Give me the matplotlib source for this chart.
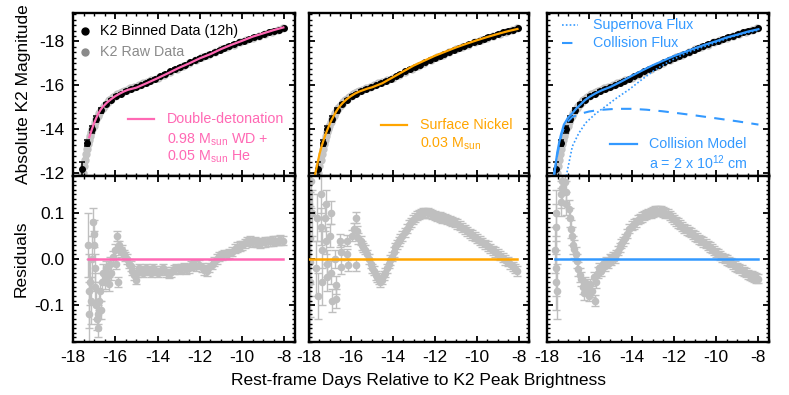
import matplotlib
matplotlib.use("Agg")
import matplotlib.pyplot as plt
from matplotlib.ticker import MultipleLocator, FormatStrFormatter

plt.rcParams['font.family'] = ['Liberation Sans', 'DejaVu Sans']
plt.rcParams['mathtext.fontset'] = 'custom'
plt.rcParams['mathtext.rm'] = 'Liberation Sans'
plt.rcParams['mathtext.it'] = 'Liberation Sans'
plt.rcParams['axes.unicode_minus'] = False

# binned light curve (12h)
bin_t = [-17.58, -17.34, -17.12, -16.89, -16.66, -16.44, -16.20, -15.97, -15.74, -15.50,
         -15.27, -15.04, -14.80, -14.57, -14.34, -14.10, -13.87, -13.64, -13.40, -13.17,
         -12.94, -12.70, -12.47, -12.24, -12.00, -11.77, -11.54, -11.30, -11.07, -10.84,
         -10.60, -10.37, -10.14, -9.90, -9.67, -9.44, -9.20, -8.97, -8.74, -8.50, -8.27, -8.04]
bin_mag = [-12.18, -13.36, -13.98, -14.45, -14.85, -15.12, -15.33, -15.50, -15.62, -15.73,
           -15.82, -15.90, -16.00, -16.10, -16.20, -16.30, -16.40, -16.52, -16.63, -16.74,
           -16.84, -16.94, -17.04, -17.14, -17.24, -17.33, -17.42, -17.52, -17.61, -17.70,
           -17.79, -17.88, -17.96, -18.04, -18.12, -18.20, -18.27, -18.34, -18.41, -18.48, -18.54, -18.60]
bin_err = [0.33, 0.13, 0.16, 0.13, 0.10, 0.08, 0.06, 0.05, 0.04, 0.04,
           0.03, 0.03, 0.03, 0.03, 0.03, 0.03, 0.03, 0.03, 0.03, 0.03,
           0.03, 0.03, 0.03, 0.03, 0.03, 0.03, 0.03, 0.03, 0.03, 0.03,
           0.03, 0.03, 0.03, 0.03, 0.03, 0.03, 0.03, 0.03, 0.03, 0.03, 0.03, 0.03]

# raw light curve
raw_t = [-17.62, -17.55, -17.50, -17.45, -17.40, -17.35, -17.30, -17.25, -17.20, -17.15,
         -17.10, -17.03, -16.96, -16.90, -16.82, -16.75, -16.68, -16.60, -16.52, -16.44,
         -16.36, -16.28, -16.20, -16.10, -16.00, -15.90, -15.80, -15.70, -15.60, -15.45,
         -15.30, -15.10, -14.90, -14.70, -14.50, -14.30, -14.00, -13.70, -13.40, -13.10,
         -12.80, -12.50, -12.20, -11.90, -11.60, -11.30, -11.00, -10.70, -10.40, -10.10,
         -9.80, -9.50, -9.20, -8.90, -8.60, -8.30, -8.05]
raw_mag = [-11.85, -12.00, -12.30, -12.60, -12.85, -13.10, -13.30, -13.50, -13.70, -13.85,
           -14.00, -14.15, -14.30, -14.45, -14.60, -14.72, -14.85, -14.97, -15.07, -15.15,
           -15.25, -15.32, -15.38, -15.45, -15.52, -15.58, -15.64, -15.69, -15.73, -15.79,
           -15.85, -15.93, -16.00, -16.08, -16.15, -16.23, -16.35, -16.48, -16.62, -16.76,
           -16.89, -17.02, -17.15, -17.28, -17.40, -17.52, -17.64, -17.75, -17.86, -17.97,
           -18.08, -18.18, -18.27, -18.36, -18.45, -18.53, -18.60]
raw_err = [0.25, 0.25, 0.22, 0.22, 0.2, 0.2, 0.18, 0.18, 0.16, 0.16,
           0.15, 0.14, 0.13, 0.12, 0.11, 0.1, 0.1, 0.09, 0.08, 0.08,
           0.07, 0.07, 0.06, 0.06, 0.05, 0.05, 0.05, 0.05, 0.05, 0.05,
           0.04, 0.04, 0.04, 0.04, 0.04, 0.04, 0.04, 0.04, 0.04, 0.04,
           0.04, 0.04, 0.04, 0.04, 0.04, 0.04, 0.04, 0.04, 0.04, 0.04,
           0.04, 0.04, 0.04, 0.04, 0.04, 0.04, 0.04]

# double-detonation model
dd_t = [-17.23, -17.1, -17.0, -16.9, -16.8, -16.7, -16.6, -16.5, -16.4, -16.3, -16.2, -16.0,
        -15.8, -15.6, -15.4, -15.0, -14.5, -14.0, -13.5, -13.0, -12.5, -12.0, -11.5, -11.0,
        -10.5, -10.0, -9.5, -9.0, -8.5, -8.05]
dd_mag = [-13.62, -14.0, -14.27, -14.5, -14.7, -14.87, -15.0, -15.1, -15.2, -15.28, -15.36, -15.5,
          -15.61, -15.71, -15.79, -15.89, -16.1, -16.32, -16.55, -16.79, -17.0, -17.23, -17.42, -17.65,
          -17.85, -18.03, -18.22, -18.37, -18.52, -18.64]

# surface nickel model
ni_t = [-17.72, -17.6, -17.5, -17.4, -17.3, -17.2, -17.1, -17.0, -16.9, -16.8, -16.7, -16.6,
        -16.5, -16.4, -16.2, -16.0, -15.8, -15.6, -15.4, -15.2, -15.0, -14.5, -14.0, -13.5,
        -13.0, -12.5, -12.0, -11.5, -11.0, -10.5, -10.0, -9.5, -9.0, -8.5, -8.05]
ni_mag = [-11.87, -12.4, -12.85, -13.2, -13.5, -13.78, -14.02, -14.25, -14.45, -14.63, -14.8, -14.95,
          -15.07, -15.18, -15.36, -15.5, -15.62, -15.71, -15.78, -15.85, -15.9, -16.09, -16.36, -16.63,
          -16.9, -17.12, -17.34, -17.53, -17.72, -17.89, -18.05, -18.2, -18.34, -18.47, -18.57]

# collision model (total, supernova, collision)
col_t = [-17.67, -17.6, -17.51, -17.43, -17.35, -17.2, -17.0, -16.8, -16.6, -16.4, -16.2, -16.0,
         -15.7, -15.4, -15.0, -14.5, -14.0, -13.5, -13.0, -12.5, -12.0, -11.5, -11.0, -10.5,
         -10.0, -9.5, -9.0, -8.5, -8.0]
col_mag = [-11.87, -12.35, -12.94, -13.35, -13.7, -14.2, -14.52, -14.72, -14.95, -15.13, -15.32, -15.46,
           -15.63, -15.77, -15.92, -16.16, -16.42, -16.67, -16.91, -17.12, -17.33, -17.51, -17.69, -17.86,
           -18.01, -18.18, -18.31, -18.45, -18.56]
sn_t = [-17.09, -16.8, -16.5, -16.17, -15.7, -15.22, -14.7, -14.12, -13.5, -12.86, -12.2, -11.44,
        -10.7, -10.0, -9.3, -8.6, -8.0]
sn_mag = [-11.85, -13.21, -13.8, -14.28, -14.7, -15.04, -15.42, -15.8, -16.27, -16.72, -17.1, -17.45,
          -17.72, -17.95, -18.2, -18.38, -18.52]
cf_t = [-17.67, -17.5, -17.4, -17.3, -17.1, -16.8, -16.4, -16.0, -15.5, -14.75, -14.0, -13.3,
        -12.55, -11.8, -11.0, -10.18, -9.0, -8.0]
cf_mag = [-11.87, -12.9, -13.3, -13.8, -14.25, -14.55, -14.7, -14.8, -14.87, -14.92, -14.92, -14.88,
          -14.81, -14.72, -14.62, -14.51, -14.35, -14.2]

# residuals: double-detonation
res1_t = [-17.28, -17.26, -17.24, -17.20, -17.14, -17.10, -17.05, -17.03, -17.00, -16.98,
          -16.95, -16.92, -16.88, -16.84, -16.80, -16.76, -16.72, -16.68, -16.62, -16.56,
          -16.50, -16.44, -16.38, -16.32, -16.25, -16.18, -16.10, -16.02, -15.95, -15.90,
          -15.86, -15.82, -15.75, -15.68, -15.60, -15.52, -15.44, -15.36, -15.28, -15.20,
          -15.12, -15.04, -14.96, -14.88, -14.78, -14.68, -14.56, -14.44, -14.32, -14.20,
          -14.08, -13.96, -13.84, -13.72, -13.60, -13.48, -13.36, -13.24, -13.12, -13.00,
          -12.88, -12.76, -12.64, -12.52, -12.40, -12.28, -12.16, -12.04, -11.92, -11.80,
          -11.68, -11.56, -11.44, -11.32, -11.20, -11.08, -10.96, -10.84, -10.72, -10.60,
          -10.48, -10.36, -10.24, -10.12, -10.00, -9.88, -9.76, -9.64, -9.52, -9.40,
          -9.28, -9.16, -9.04, -8.92, -8.80, -8.68, -8.56, -8.44, -8.32, -8.20, -8.08]
res1 = [0.03, -0.07, -0.12, -0.05, -0.09, 0.00, 0.08, 0.055, 0.03, -0.02,
        -0.06, -0.10, -0.13, -0.15, -0.12, -0.09, -0.07, -0.11, -0.05, -0.03,
        -0.05, -0.02, -0.04, -0.055, -0.01, -0.03, 0.005, 0.02, -0.01, 0.05,
        -0.05, 0.03, 0.015, 0.02, 0.01, 0.005, 0.00, -0.01, -0.015, -0.025,
        -0.035, -0.045, -0.03, -0.02, -0.025, -0.03, -0.02, -0.025, -0.03, -0.02,
        -0.025, -0.03, -0.025, -0.02, -0.028, -0.032, -0.028, -0.022, -0.02, -0.022,
        -0.02, -0.018, -0.022, -0.02, -0.014, -0.012, -0.015, -0.012, -0.018, -0.024,
        -0.026, -0.018, -0.012, -0.006, 0.000, 0.006, 0.008, 0.010, 0.010, 0.012,
        0.016, 0.022, 0.026, 0.028, 0.030, 0.034, 0.038, 0.040, 0.036, 0.038,
        0.036, 0.034, 0.036, 0.037, 0.038, 0.038, 0.039, 0.040, 0.040, 0.041, 0.040]
res1_err = [0.07, 0.08, 0.07, 0.05, 0.05, 0.05, 0.03, 0.03, 0.03, 0.03,
            0.03, 0.03, 0.025, 0.02, 0.02, 0.02, 0.02, 0.02, 0.02, 0.02,
            0.015, 0.015, 0.015, 0.015, 0.015, 0.015, 0.012, 0.012, 0.012, 0.01,
            0.01, 0.01, 0.01, 0.01, 0.01, 0.01, 0.01, 0.01, 0.01, 0.01] + [0.01] * 61

# residuals: surface nickel
res2_t = [-17.98, -17.97, -17.96, -17.95, -17.90, -17.85, -17.65, -17.60, -17.55, -17.45,
          -17.42, -17.40, -17.38, -17.22, -17.20, -17.18, -17.15, -17.12, -16.98, -16.96,
          -16.94, -16.92, -16.75, -16.72, -16.70, -16.50, -16.48, -16.45, -16.20, -16.17,
          -16.14, -15.95, -15.85, -15.78, -15.76, -15.72, -15.66, -15.54, -15.48, -15.40,
          -15.32, -15.23, -15.15, -15.06, -14.98, -14.90, -14.82, -14.74, -14.66, -14.59,
          -14.52, -14.44, -14.36, -14.28, -14.20, -14.12, -14.04, -13.96, -13.88, -13.80,
          -13.72, -13.64, -13.54, -13.44, -13.34, -13.24, -13.14, -13.04, -12.94, -12.84,
          -12.74, -12.64, -12.54, -12.44, -12.34, -12.24, -12.12, -12.00, -11.88, -11.76,
          -11.64, -11.52, -11.40, -11.28, -11.16, -11.04, -10.92, -10.80, -10.68, -10.56,
          -10.44, -10.32, -10.20, -10.08, -9.96, -9.84, -9.72, -9.60, -9.48, -9.36,
          -9.24, -9.12, -9.00, -8.88, -8.76, -8.64, -8.52, -8.40, -8.28, -8.16, -8.06]
res2 = [0.12, 0.045, -0.006, -0.05, 0.17, 0.10, -0.02, 0.09, -0.08, 0.07,
        0.14, 0.02, -0.05, 0.09, 0.12, 0.04, -0.01, -0.04, 0.05, 0.10,
        -0.03, -0.09, 0.0, -0.056, -0.086, 0.04, 0.015, -0.018, 0.04, 0.01,
        -0.013, 0.05, 0.065, 0.09, -0.013, 0.06, 0.045, 0.04, 0.03, 0.025,
        0.02, 0.01, 0.00, -0.01, -0.02, -0.025, -0.035, -0.04, -0.045, -0.05,
        -0.045, -0.035, -0.03, -0.02, -0.01, -0.002, 0.005, 0.015, 0.025, 0.032,
        0.038, 0.044, 0.05, 0.058, 0.066, 0.074, 0.08, 0.085, 0.09, 0.094,
        0.097, 0.099, 0.10, 0.101, 0.10, 0.099, 0.097, 0.095, 0.093, 0.091,
        0.089, 0.087, 0.085, 0.083, 0.081, 0.079, 0.076, 0.072, 0.068, 0.064,
        0.06, 0.056, 0.052, 0.048, 0.044, 0.04, 0.036, 0.032, 0.028, 0.023,
        0.019, 0.015, 0.011, 0.007, 0.003, -0.002, -0.006, -0.011, -0.016, -0.021, -0.026]
res2_err = [0.08, 0.1, 0.12, 0.15, 0.06, 0.05, 0.06, 0.05, 0.05, 0.04,
            0.04, 0.04, 0.05, 0.03, 0.03, 0.03, 0.03, 0.03, 0.025, 0.025,
            0.025, 0.025, 0.02, 0.02, 0.02, 0.015, 0.015, 0.015, 0.012, 0.012,
            0.012, 0.012, 0.012, 0.012, 0.012, 0.012, 0.012, 0.01, 0.01, 0.01,
            0.01, 0.01, 0.01, 0.01] + [0.01] * 67

# residuals: collision
res3_t = [-17.60, -17.58, -17.56, -17.55, -17.57, -17.59, -17.35, -17.33, -17.30, -17.28,
          -17.14, -17.12, -17.10, -16.95, -16.90, -16.86, -16.80, -16.76, -16.70, -16.62,
          -16.58, -16.54, -16.45, -16.38, -16.32, -16.26, -16.18, -16.10, -16.02, -15.95,
          -15.88, -15.80, -15.72, -15.68, -15.60, -15.52, -15.44, -15.36, -15.28, -15.20,
          -15.12, -15.04, -14.96, -14.88, -14.80, -14.72, -14.64, -14.56, -14.48, -14.40,
          -14.30, -14.20, -14.10, -14.00, -13.90, -13.80, -13.70, -13.60, -13.50, -13.40,
          -13.30, -13.20, -13.10, -13.00, -12.90, -12.80, -12.70, -12.60, -12.50, -12.40,
          -12.30, -12.20, -12.10, -12.00, -11.90, -11.80, -11.70, -11.60, -11.50, -11.40,
          -11.30, -11.20, -11.10, -11.00, -10.90, -10.80, -10.70, -10.60, -10.50, -10.40,
          -10.30, -10.20, -10.10, -10.00, -9.90, -9.80, -9.70, -9.60, -9.50, -9.40,
          -9.30, -9.20, -9.10, -9.00, -8.90, -8.80, -8.70, -8.60, -8.50, -8.40,
          -8.30, -8.20, -8.10, -8.02]
res3 = [0.02, -0.02, -0.05, -0.07, 0.07, 0.10, 0.123, 0.14, 0.17, 0.155,
        0.167, 0.145, 0.12, 0.109, 0.09, 0.065, 0.05, 0.03, 0.022, 0.01,
        -0.005, -0.022, -0.035, -0.044, -0.06, -0.073, -0.05, -0.065, -0.08, -0.055,
        -0.07, -0.04, -0.091, -0.05, -0.03, -0.02, -0.025, -0.01, -0.015, -0.005,
        -0.01, 0.0, -0.002, 0.005, 0.002, 0.01, 0.018, 0.025, 0.033, 0.038,
        0.045, 0.055, 0.066, 0.072, 0.076, 0.08, 0.085, 0.088, 0.091, 0.094,
        0.096, 0.098, 0.1, 0.102, 0.104, 0.105, 0.105, 0.104, 0.102, 0.1,
        0.098, 0.095, 0.09, 0.086, 0.082, 0.078, 0.074, 0.07, 0.066, 0.063,
        0.06, 0.057, 0.053, 0.05, 0.046, 0.043, 0.04, 0.037, 0.033, 0.029,
        0.026, 0.022, 0.018, 0.014, 0.011, 0.008, 0.004, 0.001, -0.002, -0.005,
        -0.008, -0.011, -0.015, -0.018, -0.021, -0.024, -0.027, -0.03, -0.033, -0.035,
        -0.037, -0.039, -0.041, -0.043]
res3_err = [0.05, 0.06, 0.06, 0.06, 0.05, 0.05, 0.03, 0.03, 0.03, 0.03,
            0.025, 0.025, 0.025, 0.02, 0.02, 0.02, 0.02, 0.02, 0.02, 0.015,
            0.015, 0.015, 0.015, 0.015, 0.015, 0.015, 0.012, 0.012, 0.012, 0.012,
            0.012, 0.012, 0.012, 0.012, 0.012, 0.012, 0.012, 0.01, 0.01, 0.01,
            0.01, 0.01, 0.01, 0.01, 0.01] + [0.01] * 69

pink = '#ff69b4'
orange = '#ffa500'
blue = '#3399ff'
res_gray = '#bfbfbf'
raw_gray = '#c4c4c4'

fig = plt.figure(figsize=(7.89, 3.95), dpi=100)
W, H = 789.0, 395.0
lefts = [73, 309, 547]
widths = [222, 220, 222]
top_axes = []
bot_axes = []
for l, w in zip(lefts, widths):
    at = fig.add_axes([l / W, 1 - 176 / H, w / W, 163 / H])
    ab = fig.add_axes([l / W, 1 - 342 / H, w / W, 166 / H])
    top_axes.append(at)
    bot_axes.append(ab)

for ax in top_axes + bot_axes:
    ax.set_xlim(-18, -7.5)
    ax.xaxis.set_major_locator(MultipleLocator(2))
    ax.xaxis.set_minor_locator(MultipleLocator(0.5))
    ax.tick_params(which='both', direction='in', top=True, right=True, labelsize=12.5)
    ax.tick_params(which='major', length=4.5, width=1.3, pad=6)
    ax.tick_params(which='minor', length=2.2, width=1.0)
    for s in ax.spines.values():
        s.set_linewidth(1.7)

for ax in top_axes:
    ax.set_ylim(-11.85, -19.3)
    ax.yaxis.set_major_locator(MultipleLocator(2))
    ax.yaxis.set_minor_locator(MultipleLocator(0.25))
    ax.tick_params(labelbottom=False)
    ax.errorbar(raw_t, raw_mag, yerr=raw_err, fmt='o', color=raw_gray, ms=6, mec='none',
                elinewidth=1.2, capsize=0, zorder=1)
    ax.errorbar(bin_t, bin_mag, yerr=bin_err, fmt='o', color='black', ms=4,
                elinewidth=1.1, capsize=2.5, capthick=1.1, zorder=2)

for ax in bot_axes:
    ax.set_ylim(-0.18, 0.18)
    ax.yaxis.set_major_locator(MultipleLocator(0.1))
    ax.yaxis.set_minor_locator(MultipleLocator(0.01))
    ax.yaxis.set_major_formatter(FormatStrFormatter('%.1f'))

for ax in top_axes[1:] + bot_axes[1:]:
    ax.tick_params(labelleft=False)

# models
a1, a2, a3 = top_axes
a1.plot(dd_t, dd_mag, color=pink, lw=1.6, zorder=3)
a2.plot(ni_t, ni_mag, color=orange, lw=1.6, zorder=3)
a3.plot(col_t, col_mag, color=blue, lw=1.6, zorder=3)
a3.plot(sn_t, sn_mag, color=blue, lw=1.2, ls=(0, (1, 1.3)), zorder=3)
a3.plot(cf_t, cf_mag, color=blue, lw=1.5, ls=(0, (5, 4)), zorder=3)

# residuals
for ax, t, r, e, c in [(bot_axes[0], res1_t, res1, res1_err, pink),
                       (bot_axes[1], res2_t, res2, res2_err, orange),
                       (bot_axes[2], res3_t, res3, res3_err, blue)]:
    ax.errorbar(t, r, yerr=e, fmt='o', color=res_gray, ms=5.5, mec='none',
                elinewidth=1, capsize=3, capthick=1, zorder=1)
    ax.plot([t[0], t[-1]], [0, 0], color=c, lw=1.8, zorder=3)

# legend-like labels, left panel
fs = 10.3
tr = a1.transAxes
a1.plot([0.054], [0.891], 'o', color='black', ms=5, transform=tr)
a1.text(0.122, 0.891, 'K2 Binned Data (12h)', transform=tr, fontsize=fs, va='center')
a1.plot([0.054], [0.759], 'o', color='#8a8a8a', ms=5, transform=tr)
a1.text(0.122, 0.759, 'K2 Raw Data', transform=tr, fontsize=fs, va='center', color='#8a8a8a')
a1.plot([0.248, 0.365], [0.348, 0.348], color=pink, lw=1.6, transform=tr)
a1.text(0.423, 0.348, 'Double-detonation', transform=tr, fontsize=fs, va='center', color=pink)
a1.text(0.423, 0.225, r'0.98 M$_{\mathrm{sun}}$ WD +', transform=tr, fontsize=fs, va='center', color=pink)
a1.text(0.423, 0.115, r'0.05 M$_{\mathrm{sun}}$ He', transform=tr, fontsize=fs, va='center', color=pink)

tr = a2.transAxes
a2.plot([0.326, 0.447], [0.313, 0.313], color=orange, lw=1.6, transform=tr)
a2.text(0.505, 0.313, 'Surface Nickel', transform=tr, fontsize=fs, va='center', color=orange)
a2.text(0.505, 0.2, r'0.03 M$_{\mathrm{sun}}$', transform=tr, fontsize=fs, va='center', color=orange)

tr = a3.transAxes
a3.plot([0.068, 0.14], [0.926, 0.926], color=blue, lw=1.2, ls=(0, (1, 1.3)), transform=tr)
a3.text(0.207, 0.926, 'Supernova Flux', transform=tr, fontsize=fs, va='center', color=blue)
a3.plot([0.068, 0.14], [0.816, 0.816], color=blue, lw=1.5, ls=(0, (5, 4)), transform=tr)
a3.text(0.207, 0.816, 'Collision Flux', transform=tr, fontsize=fs, va='center', color=blue)
a3.plot([0.284, 0.405], [0.196, 0.196], color=blue, lw=1.6, transform=tr)
a3.text(0.459, 0.196, 'Collision Model', transform=tr, fontsize=fs, va='center', color=blue)
a3.text(0.459, 0.08, r'a = 2 x 10$^{12}$ cm', transform=tr, fontsize=fs, va='center', color=blue)

a1.set_ylabel('Absolute K2 Magnitude', fontsize=12.5)
a1.yaxis.set_label_coords(-0.19, 0.5)
bot_axes[0].set_ylabel('Residuals', fontsize=12.5)
bot_axes[0].yaxis.set_label_coords(-0.2, 0.5)
fig.text(0.53, 0.036, 'Rest-frame Days Relative to K2 Peak Brightness', fontsize=12.5,
         ha='center', va='center')

fig.savefig('out.png', dpi=100)
